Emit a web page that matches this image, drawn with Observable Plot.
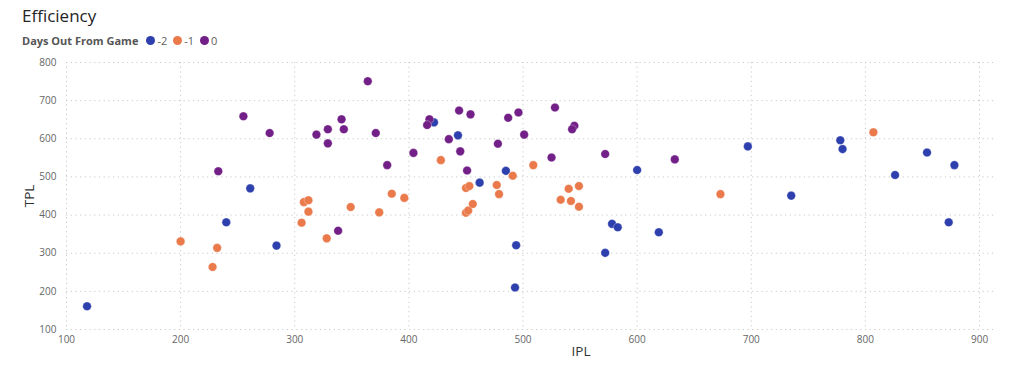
<!DOCTYPE html>
<html>
<head>
<meta charset="utf-8">
<script src="https://cdn.jsdelivr.net/npm/d3@7"></script>
<script src="https://cdn.jsdelivr.net/npm/@observablehq/plot@0.6"></script>
<style>
  html, body { margin: 0; padding: 0; background: #fff; }
  body { width: 1029px; height: 376px; overflow: hidden; font-family: "Segoe UI", "Open Sans", sans-serif; }
  #header { height: 52px; position: relative; }
  #title { position: absolute; left: 22px; top: 4px; font-size: 17px; color: #252423; font-family: "Open Sans", sans-serif; }
  #legend { position: absolute; left: 22px; top: 33px; font-size: 11px; color: #555; display: flex; align-items: center; white-space: nowrap; }
  #legend b { color: #555; margin-right: 8px; font-weight: 700; }
  .sw { display: inline-block; width: 9px; height: 9px; border-radius: 50%; margin-right: 2px; }
  .lab { margin-right: 6px; color: #605E5C; }
  #chart svg { display: block; }
  [aria-label="y-axis label"] text { font-size: 13.5px; fill: #333; }
</style>
</head>
<body>
<div id="header">
  <div id="title">Efficiency</div>
  <div id="legend"></div>
</div>
<div id="chart"></div>
<script>
// Series "-2"
const iplM2 = [118, 261, 240, 284, 443, 422, 462, 485, 494, 493, 578, 583, 572, 600, 619, 697, 735, 778, 780, 826, 854, 878, 873];
const tplM2 = [161, 470, 381, 320, 609, 643, 485, 516, 321, 210, 377, 368, 301, 518, 355, 580, 451, 596, 573, 505, 564, 531, 381];
// Series "-1"
const iplM1 = [200, 232, 228, 308, 312, 312, 306, 328, 349, 374, 385, 396, 428, 450, 453, 450, 452, 456, 477, 479, 491, 509, 549, 540, 533, 542, 549, 673, 807];
const tplM1 = [331, 314, 264, 434, 439, 409, 380, 339, 421, 407, 456, 445, 544, 471, 476, 406, 412, 429, 479, 455, 503, 531, 476, 469, 440, 437, 422, 455, 617];
// Series "0"
const ipl0 = [233, 255, 278, 319, 329, 329, 341, 343, 364, 371, 381, 404, 338, 418, 416, 444, 454, 435, 445, 451, 478, 487, 496, 501, 525, 528, 545, 543, 572, 633];
const tpl0 = [515, 659, 615, 611, 625, 588, 651, 625, 751, 615, 531, 563, 359, 651, 636, 674, 664, 599, 567, 517, 587, 655, 669, 611, 551, 682, 634, 625, 560, 546];

const categories = ["-2", "-1", "0"];
const colors = ["#2E3FAE", "#EA7A4B", "#721F87"];
const xTicks = [100, 200, 300, 400, 500, 600, 700, 800, 900];
const yTicks = [100, 200, 300, 400, 500, 600, 700, 800];

const rows = [];
[[iplM2, tplM2, "-2"], [iplM1, tplM1, "-1"], [ipl0, tpl0, "0"]].forEach(([xs, ys, c]) => {
  xs.forEach((v, i) => rows.push({ IPL: v, TPL: ys[i], day: c }));
});

// legend
const leg = document.getElementById("legend");
leg.innerHTML = "<b>Days Out From Game</b>" + categories.map((c, i) =>
  `<span class="sw" style="background:${colors[i]}"></span><span class="lab">${c}</span>`).join("");

const chart = Plot.plot({
  width: 1029,
  height: 324,
  marginLeft: 66,
  marginRight: 34,
  marginTop: 10,
  marginBottom: 47,
  style: { fontFamily: "'Segoe UI', 'Open Sans', sans-serif", fontSize: "10px", color: "#666" },
  x: { domain: [100, 914] },
  y: { domain: [100, 800] },
  color: { domain: categories, range: colors },
  marks: [
    Plot.gridX(xTicks, { stroke: "#c8c8c8", strokeOpacity: 1, strokeDasharray: "1.2,3.5" }),
    Plot.gridY(yTicks, { stroke: "#c8c8c8", strokeOpacity: 1, strokeDasharray: "1.2,3.5" }),
    Plot.axisX(xTicks, { tickSize: 0, tickPadding: 6, label: null }),
    Plot.axisY(yTicks, { tickSize: 0, tickPadding: 10, label: "TPL", labelAnchor: "center", labelArrow: "none", labelOffset: 42 }),
    Plot.text(["IPL"], { text: d => d, frameAnchor: "bottom", dx: 50, dy: 26, fontSize: 13.5, fill: "#333" }),
    Plot.dot(rows, { x: "IPL", y: "TPL", fill: "day", r: 4.3, stroke: "white", strokeWidth: 0.5, strokeOpacity: 0.6 })
  ]
});
document.getElementById("chart").appendChild(chart);
</script>
</body>
</html>
